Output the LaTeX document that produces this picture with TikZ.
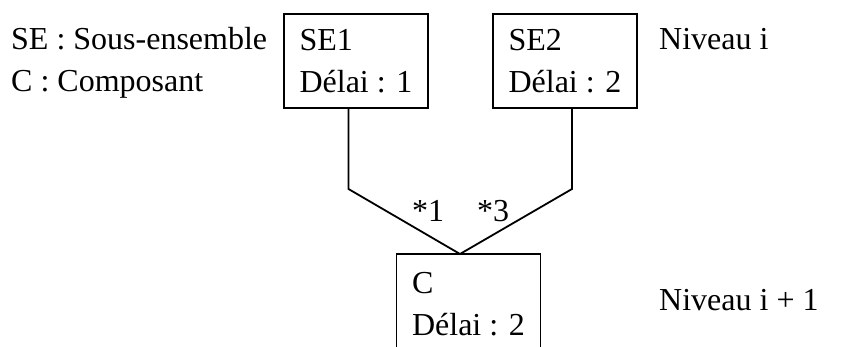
\documentclass[tikz,border=0pt]{standalone}
\usepackage{fontspec}
\setmainfont{Liberation Serif}
\usetikzlibrary{positioning}

\tikzset{
    box/.style={draw, line width=1.8pt, minimum width=144pt, minimum height=94pt,
        align=left},
    link/.style={line width=1.8pt},
    txt/.style={inner sep=0pt, anchor=base west}
}

\begin{document}
\begin{tikzpicture}[x=1pt, y=-1pt, font=\fontsize{32}{42}\selectfont]
    \useasboundingbox (0,0) rectangle (846,347);
    \node[box] (se1) at (356,61) {SE1\\Délai : 1};
    \node[box] (se2) at (565,61) {SE2\\Délai : 2};
    \node[box, minimum height=100pt] (c) at (468.5,304) {C\\Délai : 2};
    \node[txt] (leg1) at (11,50) {SE : Sous-ensemble};
    \node[txt] (leg2) at (11,92) {C : Composant};
    \node[txt] (niv1) at (659,50) {Niveau i};
    \node[txt] (niv2) at (659,311) {Niveau i + 1};
    \node[txt] (q1) at (412,222) {*1};
    \node[txt] (q3) at (477,222) {*3};
    \coordinate (l1) at (348.5,189);
    \coordinate (l2) at (572,189);
    \coordinate (j) at (460,254);
    \draw[link] (se1.south -| l1) -- (l1) -- (j) -- (l2) -- (se2.south -| l2);
\end{tikzpicture}
\end{document}
